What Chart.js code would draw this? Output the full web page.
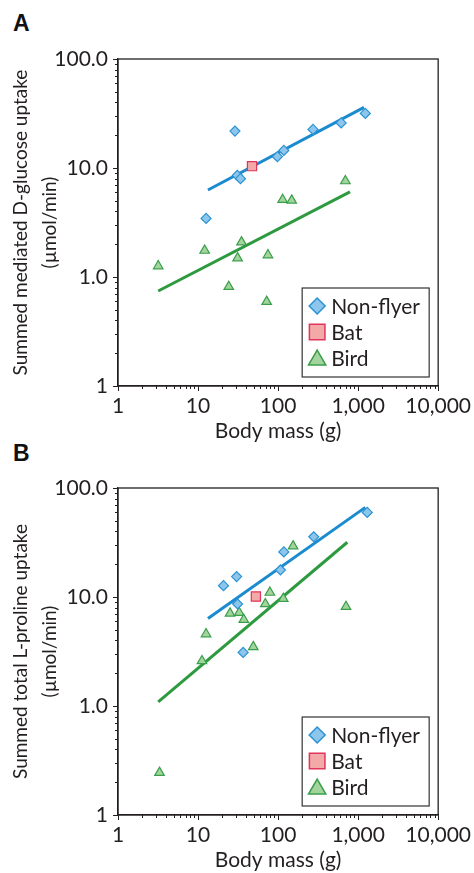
<!DOCTYPE html>
<html>
<head>
<meta charset="utf-8">
<script src="https://cdn.jsdelivr.net/npm/chart.js@4/dist/chart.umd.min.js"></script>
<style>
  html, body { margin: 0; padding: 0; background: #fff; }
  body { width: 474px; height: 873px; position: relative; overflow: hidden; }
  .panel { position: absolute; left: 0; width: 474px; height: 444px; }
  .letter { position: absolute; left: 13px; font: bold 23px "Liberation Sans", Arial, sans-serif; color: #111; }
</style>
</head>
<body>
<div class="letter" style="top: 10px;">A</div>
<div class="letter" style="top: 440px;">B</div>
<div class="panel" style="top: 0;"><canvas id="chart-a" width="474" height="444"></canvas></div>
<div class="panel" style="top: 429px;"><canvas id="chart-b" width="474" height="444"></canvas></div>
<script>
// axis ticks
const xTickValues = [1, 10, 100, 1000, 10000];
const xTickLabels = ['1', '10', '100', '1,000', '10,000'];
const yTickValues = [0.1, 1, 10, 100];
const yTickLabels = ['1', '1.0', '10.0', '100.0'];

// panel A: D-glucose (mass g, uptake umol/min)
const nonFlyerMassA = [12.6, 28.9, 30.9, 33.9, 98, 118, 273, 614, 1230];
const nonFlyerUptakeA = [3.45, 21.8, 8.57, 7.98, 12.7, 14.5, 22.6, 25.9, 31.7];
const batMassA = [47.2];
const batUptakeA = [10.4];
const birdMassA = [3.18, 12.1, 24.2, 31.2, 34.9, 72, 74.7, 114, 148, 693];
const birdUptakeA = [1.26, 1.75, 0.815, 1.49, 2.09, 0.594, 1.59, 5.12, 5.05, 7.6];
const nonFlyerFitMassA = [13.3, 1184];
const nonFlyerFitA = [6.28, 36.0];
const birdFitMassA = [3.18, 791];
const birdFitA = [0.744, 6.03];

// panel B: L-proline
const nonFlyerMassB = [20.8, 30.3, 31.2, 36.6, 107, 118, 279, 1300];
const nonFlyerUptakeB = [12.7, 15.4, 8.63, 3.10, 17.7, 25.9, 35.7, 59.7];
const batMassB = [52.8];
const batUptakeB = [10.1];
const birdMassB = [3.30, 11.2, 12.6, 25.1, 32.7, 37.3, 49, 69.3, 79, 116, 154, 706];
const birdUptakeB = [0.245, 2.59, 4.57, 7.08, 7.18, 6.19, 3.49, 8.63, 11.0, 9.66, 29.3, 8.15];
const nonFlyerFitMassB = [13.3, 1230];
const nonFlyerFitB = [6.36, 66.4];
const birdFitMassB = [3.18, 733];
const birdFitB = [1.09, 31.8];

const INK = '#231f20';
const BLUE_LINE = '#1b8bd0';
const GREEN_LINE = '#2e9a3f';

Chart.defaults.font.family = 'Lato, "Noto Sans", sans-serif';
Chart.defaults.color = INK;

const toPoints = (xs, ys) => xs.map((x, i) => ({ x: x, y: ys[i] }));

// frame around the plot area + minor log ticks
const frameAndMinorTicks = {
  id: 'frameAndMinorTicks',
  afterDraw(chart) {
    const { ctx, chartArea } = chart;
    const xs = chart.scales.x;
    const ys = chart.scales.y;
    ctx.save();
    ctx.strokeStyle = INK;
    ctx.lineWidth = 1.3;
    ctx.strokeRect(chartArea.left, chartArea.top, chartArea.right - chartArea.left, chartArea.bottom - chartArea.top);
    ctx.lineWidth = 1;
    ctx.beginPath();
    for (let d = 1; d < 10000; d *= 10) {
      for (let m = 2; m <= 9; m++) {
        const px = Math.round(xs.getPixelForValue(m * d)) + 0.5;
        ctx.moveTo(px, chartArea.bottom);
        ctx.lineTo(px, chartArea.bottom + 3);
      }
    }
    for (let d = 0.1; d < 100; d *= 10) {
      for (let m = 2; m <= 9; m++) {
        const py = Math.round(ys.getPixelForValue(m * d)) + 0.5;
        ctx.moveTo(chartArea.left, py);
        ctx.lineTo(chartArea.left - 3, py);
      }
    }
    ctx.stroke();
    ctx.restore();
  }
};

// boxed legend at the lower right of the plot
const boxLegend = {
  id: 'boxLegend',
  afterDraw(chart) {
    const { ctx, chartArea } = chart;
    const items = chart.data.datasets.filter(ds => ds.legendRadius);
    const w = 127, h = 89;
    const left = chartArea.right - 9 - w;
    const top = chartArea.bottom - 9 - h;
    ctx.save();
    ctx.fillStyle = '#fff';
    ctx.fillRect(left, top, w, h);
    ctx.strokeStyle = '#333';
    ctx.lineWidth = 1.2;
    ctx.strokeRect(left, top, w, h);
    ctx.font = '21px ' + Chart.defaults.font.family;
    ctx.textBaseline = 'middle';
    items.forEach((ds, i) => {
      const cy = top + 18 + i * 26;
      ctx.fillStyle = ds.backgroundColor;
      ctx.strokeStyle = ds.borderColor;
      ctx.lineWidth = 1.5;
      Chart.helpers.drawPoint(ctx, {
        pointStyle: ds.pointStyle,
        radius: ds.legendRadius,
        rotation: 0,
        borderWidth: 1.5
      }, left + 15, ds.pointStyle === 'triangle' ? cy + 2 : cy);
      ctx.fillStyle = INK;
      ctx.fillText(ds.label, left + 29, cy + 1);
    });
    ctx.restore();
  }
};

function makeChart(id, yTitle, d) {
  const canvas = document.getElementById(id);
  return new Chart(canvas, {
    type: 'scatter',
    data: {
      datasets: [
        {
          label: 'Non-flyer',
          data: toPoints(d.nfMass, d.nfUptake),
          pointStyle: 'rectRot',
          pointRadius: 5,
          backgroundColor: '#8ec5ea',
          borderColor: '#2a93d5',
          borderWidth: 1.2,
          legendRadius: 8,
          order: 1,
        },
        {
          label: 'Bat',
          data: toPoints(d.batMass, d.batUptake),
          pointStyle: 'rect',
          pointRadius: 6.5,
          backgroundColor: '#f3a9a7',
          borderColor: '#e0345b',
          borderWidth: 1.2,
          legendRadius: 11,
          order: 1,
        },
        {
          label: 'Bird',
          data: toPoints(d.birdMass, d.birdUptake),
          pointStyle: 'triangle',
          pointRadius: 5.5,
          backgroundColor: '#a4d49e',
          borderColor: '#3a9f4a',
          borderWidth: 1.2,
          legendRadius: 10,
          order: 1,
        },
        {
          label: 'Non-flyer fit',
          data: toPoints(d.nfFitMass, d.nfFit),
          showLine: true,
          pointRadius: 0,
          borderColor: BLUE_LINE,
          borderWidth: 3,
          order: 2,
        },
        {
          label: 'Bird fit',
          data: toPoints(d.birdFitMass, d.birdFit),
          showLine: true,
          pointRadius: 0,
          borderColor: GREEN_LINE,
          borderWidth: 3,
          order: 2,
        },
      ],
    },
    options: {
      animation: false,
      responsive: false,
      events: [],
      layout: {
        padding: { top: 59, right: 31, left: 0, bottom: 0 },
      },
      plugins: {
        legend: { display: false },
        tooltip: { enabled: false },
      },
      scales: {
        x: {
          type: 'logarithmic',
          min: 1,
          max: 10000,
          afterBuildTicks: (scale) => {
            scale.ticks = xTickValues.map(v => ({ value: v }));
          },
          afterFit: (scale) => {
            scale.height = 58;
          },
          grid: {
            drawOnChartArea: false,
            tickLength: 5,
            color: INK,
          },
          border: { color: INK, width: 1.3 },
          ticks: {
            autoSkip: false,
            maxRotation: 0,
            padding: 3,
            color: INK,
            font: { size: 21 },
            callback: (value) => xTickLabels[xTickValues.indexOf(value)],
          },
          title: {
            display: true,
            text: 'Body mass (g)',
            color: INK,
            font: { size: 21 },
            padding: { top: 0, bottom: 0 },
          },
        },
        y: {
          type: 'logarithmic',
          min: 0.1,
          max: 100,
          afterBuildTicks: (scale) => {
            scale.ticks = yTickValues.map(v => ({ value: v }));
          },
          afterFit: (scale) => {
            scale.width = 118;
          },
          grid: {
            drawOnChartArea: false,
            tickLength: 5,
            color: INK,
          },
          border: { color: INK, width: 1.3 },
          ticks: {
            autoSkip: false,
            padding: 5,
            color: INK,
            font: { size: 21 },
            callback: (value) => yTickLabels[yTickValues.indexOf(value)],
          },
          title: {
            display: true,
            text: yTitle,
            color: INK,
            font: { size: 19, lineHeight: 1.5 },
            padding: { top: 7, bottom: 0 },
          },
        },
      },
    },
    plugins: [frameAndMinorTicks, boxLegend],
  });
}

makeChart('chart-a', ['Summed mediated D-glucose uptake', '(µmol/min)'], {
  nfMass: nonFlyerMassA, nfUptake: nonFlyerUptakeA,
  batMass: batMassA, batUptake: batUptakeA,
  birdMass: birdMassA, birdUptake: birdUptakeA,
  nfFitMass: nonFlyerFitMassA, nfFit: nonFlyerFitA,
  birdFitMass: birdFitMassA, birdFit: birdFitA,
});

makeChart('chart-b', ['Summed total L-proline uptake', '(µmol/min)'], {
  nfMass: nonFlyerMassB, nfUptake: nonFlyerUptakeB,
  batMass: batMassB, batUptake: batUptakeB,
  birdMass: birdMassB, birdUptake: birdUptakeB,
  nfFitMass: nonFlyerFitMassB, nfFit: nonFlyerFitB,
  birdFitMass: birdFitMassB, birdFit: birdFitB,
});
</script>
</body>
</html>
